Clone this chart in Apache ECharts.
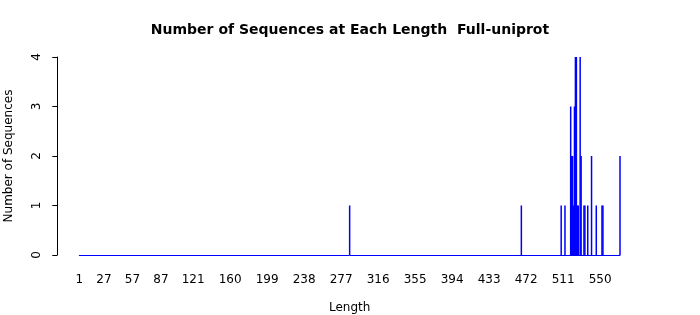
<!DOCTYPE html>
<html>
<head>
<meta charset="utf-8">
<script src="https://cdn.jsdelivr.net/npm/echarts@6/dist/echarts.min.js"></script>
<style>html,body{margin:0;padding:0;background:#fff}#c{width:700px;height:315px}</style>
</head>
<body>
<div id="c"></div>
<script>
// Sequence lengths (non-zero) and their counts
const lengths = [286, 467, 509, 513, 519, 520, 521, 522, 523, 524, 525, 526, 527, 529, 530, 533, 534, 537, 541, 546, 552, 553, 571];
const counts  = [1,   1,   1,   1,   3,   2,   2,   1,   3,   4,   4,   1,   1,   4,   2,   1,   1,   1,   2,   1,   1,   1,   2];
const minLength = 1;
const maxLength = 571;
const xTickLabels = ['1','27','57','87','121','160','199','238','277','316','355','394','433','472','511','550'];
const yTicks = [0, 1, 2, 3, 4];

const categories = [];
for (let v = minLength; v <= maxLength; v++) categories.push(String(v));
const countMap = {};
lengths.forEach((l, i) => { countMap[l] = counts[i]; });
const values = categories.map(c => countMap[+c] || 0);
const labelSet = new Set(xTickLabels);

const chart = echarts.init(document.getElementById('c'));
const font = 'DejaVu Sans';
chart.setOption({
  animation: false,
  title: {
    text: 'Number of Sequences at Each Length  Full-uniprot',
    left: 'center', top: 18,
    textStyle: { fontFamily: font, fontSize: 14, fontWeight: 'bold', color: '#000' }
  },
  grid: { left: 79.3, right: 80, top: 57, bottom: 60, outerBoundsMode: 'none', containLabel: false },
  xAxis: {
    type: 'category',
    data: categories,
    boundaryGap: false,
    name: 'Length', nameLocation: 'middle', nameGap: 47,
    nameTextStyle: { fontFamily: font, fontSize: 12, color: '#000' },
    axisLine: { lineStyle: { color: '#0000ff', width: 1 } },
    axisTick: { show: false },
    axisLabel: {
      interval: (idx, val) => labelSet.has(val),
      margin: 19, fontFamily: font, fontSize: 12, color: '#000'
    },
    splitLine: { show: false }
  },
  yAxis: {
    type: 'value', min: yTicks[0], max: yTicks[yTicks.length - 1], interval: 1,
    offset: 22,
    name: 'Number of Sequences', nameLocation: 'middle', nameGap: 42,
    nameTextStyle: { fontFamily: font, fontSize: 12, color: '#000' },
    axisLine: { show: true, lineStyle: { color: '#000', width: 1 } },
    axisTick: { show: true, length: 5, lineStyle: { color: '#000' } },
    axisLabel: { rotate: 90, margin: 14, fontFamily: font, fontSize: 12, color: '#000' },
    splitLine: { show: false }
  },
  series: [{
    type: 'bar',
    data: values,
    barWidth: 1.5,
    itemStyle: { color: '#0000ff' },
    silent: true
  }]
});
</script>
</body>
</html>
